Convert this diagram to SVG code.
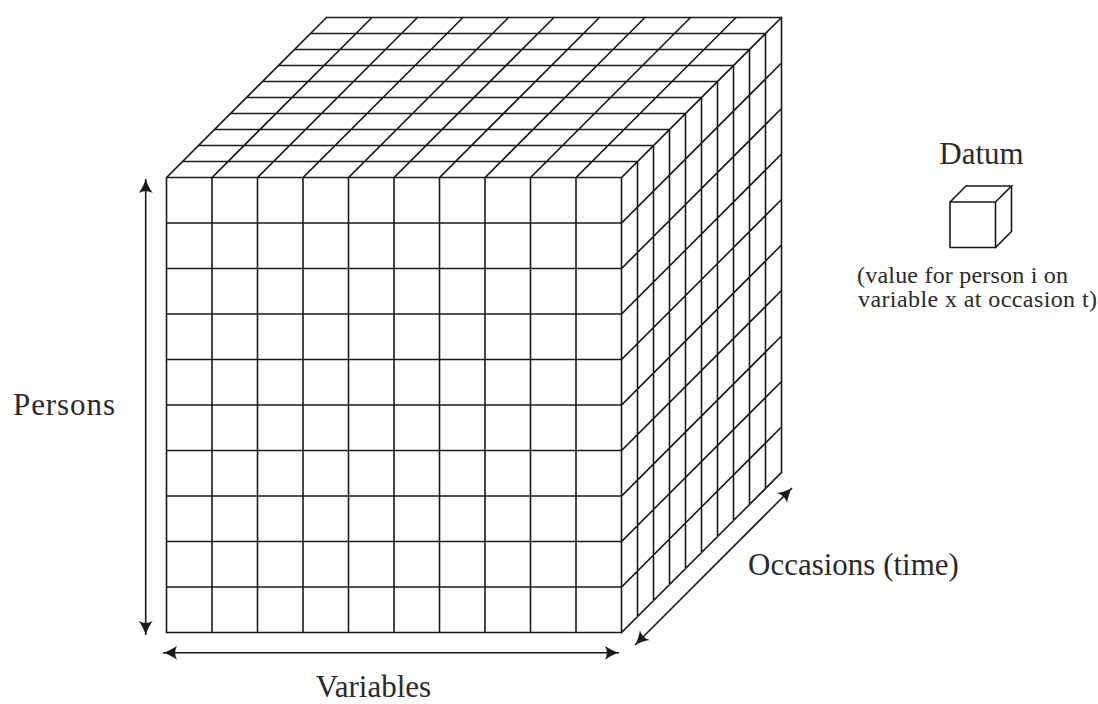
<svg xmlns="http://www.w3.org/2000/svg" width="1098" height="704" viewBox="0 0 1098 704">
<defs>
<style>
.g{fill:none;stroke:#1a1a1a;stroke-width:1.6;stroke-linecap:square}
.a{fill:none;stroke:#1a1a1a;stroke-width:1.6}
.t{font-family:"Liberation Serif","DejaVu Serif",serif;fill:#2a2a2a}
.big{font-size:31px}
.small{font-size:24px}
</style>
<marker id="ah" viewBox="-15 -8 17 16" refX="0" refY="0" markerWidth="17" markerHeight="16" markerUnits="userSpaceOnUse" orient="auto-start-reverse">
<path d="M0,0 C-4,-1 -10,-4 -14,-7 C-11.5,-2.5 -11.5,2.5 -14,7 C-10,4 -4,1 0,0 Z" fill="#1a1a1a"/>
</marker>
</defs>
<rect width="1098" height="704" fill="#ffffff"/>
<g id="cube">
<path class="g" d="
M166.5,177.5 H621.5 V632.5 H166.5 Z
M212,177.5 V632.5 M257.5,177.5 V632.5 M303,177.5 V632.5 M348.5,177.5 V632.5 M394,177.5 V632.5 M439.5,177.5 V632.5 M485,177.5 V632.5 M530.5,177.5 V632.5 M576,177.5 V632.5
M166.5,223 H621.5 M166.5,268.5 H621.5 M166.5,314 H621.5 M166.5,359.5 H621.5 M166.5,405 H621.5 M166.5,450.5 H621.5 M166.5,496 H621.5 M166.5,541.5 H621.5 M166.5,587 H621.5
M182.5,161.5 H637.5 M198.5,145.5 H653.5 M214.5,129.5 H669.5 M230.5,113.5 H685.5 M246.5,97.5 H701.5 M262.5,81.5 H717.5 M278.5,65.5 H733.5 M294.5,49.5 H749.5 M310.5,33.5 H765.5 M326.5,17.5 H781.5
M166.5,177.5 L326.5,17.5 M212,177.5 L372,17.5 M257.5,177.5 L417.5,17.5 M303,177.5 L463,17.5 M348.5,177.5 L508.5,17.5 M394,177.5 L554,17.5 M439.5,177.5 L599.5,17.5 M485,177.5 L645,17.5 M530.5,177.5 L690.5,17.5 M576,177.5 L736,17.5 M621.5,177.5 L781.5,17.5
M637.5,161.5 V616.5 M653.5,145.5 V600.5 M669.5,129.5 V584.5 M685.5,113.5 V568.5 M701.5,97.5 V552.5 M717.5,81.5 V536.5 M733.5,65.5 V520.5 M749.5,49.5 V504.5 M765.5,33.5 V488.5 M781.5,17.5 V472.5
M621.5,223 L781.5,63 M621.5,268.5 L781.5,108.5 M621.5,314 L781.5,154 M621.5,359.5 L781.5,199.5 M621.5,405 L781.5,245 M621.5,450.5 L781.5,290.5 M621.5,496 L781.5,336 M621.5,541.5 L781.5,381.5 M621.5,587 L781.5,427 M621.5,632.5 L781.5,472.5
"/>
</g>
<g id="datum">
<text class="t big" x="981.5" y="164" text-anchor="middle">Datum</text>
<path class="g" d="M950,202 H995.5 V247.5 H950 Z M950,202 L966,186 H1011.5 L995.5,202 M1011.5,186 V231.5 L995.5,247.5"/>
<text class="t small" x="857" y="283" textLength="211" lengthAdjust="spacing">(value for person i on</text>
<text class="t small" x="858" y="307" textLength="239" lengthAdjust="spacing">variable x at occasion t)</text>
</g>
<g id="connectors">
<line class="a" x1="145.7" y1="179" x2="145.7" y2="635" marker-start="url(#ah)" marker-end="url(#ah)"/>
<line class="a" x1="163" y1="652.7" x2="619" y2="652.7" marker-start="url(#ah)" marker-end="url(#ah)"/>
<line class="a" x1="635" y1="645" x2="792" y2="488" marker-start="url(#ah)" marker-end="url(#ah)"/>
</g>
<g id="labels">
<text class="t big" x="64" y="415" text-anchor="middle" textLength="102" lengthAdjust="spacing">Persons</text>
<text class="t big" x="373.5" y="697" text-anchor="middle">Variables</text>
<text class="t big" x="748" y="575">Occasions (time)</text>
</g>
</svg>
